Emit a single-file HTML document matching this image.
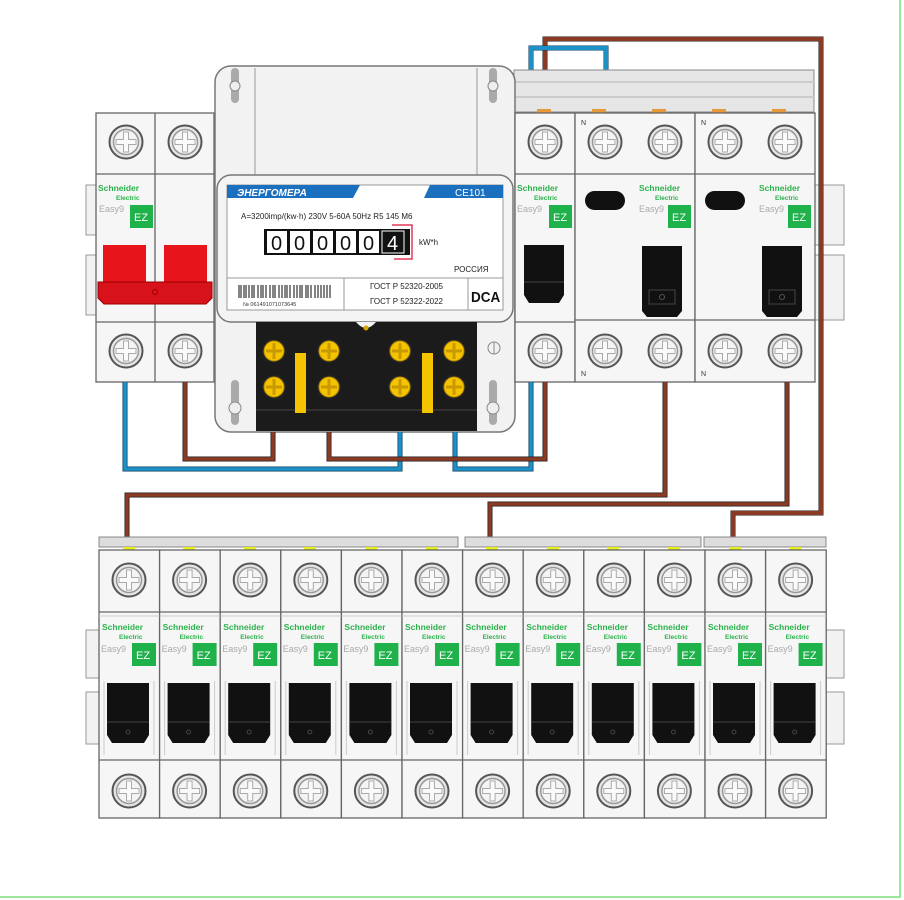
<!DOCTYPE html>
<html><head><meta charset="utf-8"><style>
html,body{margin:0;padding:0;background:#fff;}
svg{display:block;font-family:"Liberation Sans","DejaVu Sans",sans-serif;}
.sn{font-size:8.5px;font-weight:bold;fill:#2bb24c;}
.el{font-size:6.5px;font-weight:bold;fill:#2bb24c;}
.e9{font-size:9px;fill:#aaa;}
.ez{font-size:11px;fill:#fff;}
.nn{font-size:7px;fill:#333;}
</style></head><body>
<svg width="904" height="900" viewBox="0 0 904 900" xmlns="http://www.w3.org/2000/svg">
<defs>
  <g id="screw">
    <circle r="16.5" fill="#e6e6e6" stroke="#555" stroke-width="2"/>
    <circle r="12.5" fill="#f4f4f4" stroke="#999" stroke-width="1.5"/>
    <path d="M-2.5,-10 h5 v7.5 h7.5 v5 h-7.5 v7.5 h-5 v-7.5 h-7.5 v-5 h7.5z" fill="#fafafa" stroke="#aaa" stroke-width="1"/>
  </g>
  <g id="ysc">
    <circle r="12" fill="#222"/>
    <circle r="10" fill="#f5c400" stroke="#b48a00" stroke-width="1"/>
    <path d="M-1.5,-8 h3 v6.5 h6.5 v3 h-6.5 v6.5 h-3 v-6.5 h-6.5 v-3 h6.5z" fill="#c99a00"/>
  </g>
  <g id="mcb">
    <rect x="0" y="0" width="60.6" height="268" fill="#f6f6f6" stroke="#666" stroke-width="1.3"/>
    <line x1="0" y1="62" x2="60.6" y2="62" stroke="#666" stroke-width="1.3"/>
    <line x1="0" y1="66" x2="60.6" y2="66" stroke="#ccc" stroke-width="1"/>
    <line x1="0" y1="210" x2="60.6" y2="210" stroke="#666" stroke-width="1.3"/>
    <use href="#screw" x="30" y="30"/>
    <use href="#screw" x="30" y="241"/>
    <rect x="33" y="93" width="24" height="23" fill="#1fb14a"/>
    <line x1="5" y1="131" x2="5" y2="205" stroke="#ccc"/>
    <line x1="55" y1="131" x2="55" y2="205" stroke="#ccc"/>
    <path d="M8,133 h42 v52 l-5,8 h-32 l-5,-8z" fill="#111"/>
    <line x1="8" y1="172" x2="50" y2="172" stroke="#444"/>
    <circle cx="29" cy="182" r="2" fill="none" stroke="#444"/>
  </g>
</defs>

<!-- frame -->
<line x1="900" y1="0" x2="900" y2="898" stroke="#9be89b" stroke-width="2"/>
<line x1="0" y1="897" x2="900" y2="897" stroke="#9be89b" stroke-width="2"/>

<!-- DIN rails top -->
<rect x="86" y="185" width="14" height="50" fill="#f2f2f2" stroke="#999"/>
<rect x="86" y="255" width="14" height="60" fill="#f2f2f2" stroke="#999"/>
<rect x="812" y="185" width="32" height="60" fill="#f2f2f2" stroke="#999"/>
<rect x="812" y="255" width="32" height="65" fill="#f2f2f2" stroke="#999"/>
<!-- DIN rails bottom -->
<rect x="86" y="630" width="16" height="48" fill="#f2f2f2" stroke="#999"/>
<rect x="86" y="692" width="16" height="52" fill="#f2f2f2" stroke="#999"/>
<rect x="820" y="630" width="24" height="48" fill="#f2f2f2" stroke="#999"/>
<rect x="820" y="692" width="24" height="52" fill="#f2f2f2" stroke="#999"/>

<!-- top wires -->
<g fill="none" stroke-width="4" stroke-linejoin="miter">
  <path d="M545,382 V39 H821 V513 H733 V542" stroke="#222" stroke-width="5"/>
  <path d="M545,382 V39 H821 V513 H733 V542" stroke="#8b3a24"/>
  <path d="M531,382 V48 H606 V72" stroke="#0d3e5a" stroke-width="5"/>
  <path d="M531,382 V48 H606 V72" stroke="#1e90c8"/>
</g>

<!-- busbar top -->
<rect x="514" y="70" width="300" height="42" fill="#e6e6e6" stroke="#888"/>
<line x1="514" y1="82" x2="814" y2="82" stroke="#ccc" stroke-width="2"/>
<line x1="514" y1="97" x2="814" y2="97" stroke="#ccc" stroke-width="2"/>
<g fill="#e69a3a">
  <rect x="537" y="109" width="14" height="5"/><rect x="592" y="109" width="14" height="5"/>
  <rect x="652" y="109" width="14" height="5"/><rect x="712" y="109" width="14" height="5"/>
  <rect x="772" y="109" width="14" height="5"/>
</g>

<!-- left 2-pole breaker -->
<rect x="96" y="113" width="118" height="269" fill="#f6f6f6" stroke="#666" stroke-width="1.3"/>
<line x1="155" y1="113" x2="155" y2="382" stroke="#666" stroke-width="1.3"/>
<line x1="96" y1="174" x2="214" y2="174" stroke="#666" stroke-width="1.3"/>
<line x1="96" y1="322" x2="214" y2="322" stroke="#666" stroke-width="1.3"/>
<use href="#screw" x="126" y="142"/><use href="#screw" x="185" y="142"/>
<use href="#screw" x="126" y="351"/><use href="#screw" x="185" y="351"/>
<text x="98" y="191" class="sn">Schneider</text>
<text x="116" y="200" class="el">Electric</text>
<text x="99" y="212" class="e9">Easy9</text>
<rect x="130" y="205" width="23" height="23" fill="#1fb14a"/><text x="134" y="221" class="ez">EZ</text>
<rect x="103" y="245" width="43" height="38" fill="#e8141c"/>
<rect x="164" y="245" width="43" height="38" fill="#e8141c"/>
<path d="M98,282 H212 V298 L206,304 H104 L98,298Z" fill="#d8121a" stroke="#900" stroke-width="1"/>
<circle cx="155" cy="292" r="2.5" fill="none" stroke="#900"/>

<!-- meter -->
<rect x="215" y="66" width="300" height="366" rx="16" fill="#f2f2f2" stroke="#777" stroke-width="1.5"/>
<line x1="255" y1="68" x2="255" y2="176" stroke="#999"/>
<line x1="477" y1="68" x2="477" y2="176" stroke="#999"/>
<rect x="231" y="68" width="8" height="35" rx="4" fill="#aaa"/>
<rect x="489" y="68" width="8" height="35" rx="4" fill="#aaa"/>
<circle cx="235" cy="86" r="5" fill="#eee" stroke="#888"/>
<circle cx="493" cy="86" r="5" fill="#eee" stroke="#888"/>
<rect x="217" y="175" width="296" height="147" rx="14" fill="#f4f4f4" stroke="#777" stroke-width="1.5"/>
<rect x="227" y="185" width="276" height="125" fill="#fff" stroke="#999"/>
<path d="M227,185 H360 L353,198 H227Z" fill="#1a6fbf"/>
<path d="M430,185 H503 V198 H424Z" fill="#1a6fbf"/>
<text x="237" y="196" font-size="10" font-weight="bold" font-style="italic" fill="#fff">ЭНЕРГОМЕРА</text>
<text x="455" y="196" font-size="10" fill="#fff">CE101</text>
<text x="241" y="219" font-size="8" fill="#222">A=3200imp/(kw·h)  230V  5-60A 50Hz R5 145 M6</text>
<rect x="264" y="229" width="146" height="26" fill="#111"/>
<g fill="#fff"><rect x="267" y="231" width="20" height="22"/><rect x="290" y="231" width="20" height="22"/><rect x="313" y="231" width="20" height="22"/><rect x="336" y="231" width="20" height="22"/><rect x="359" y="231" width="20" height="22"/></g>
<rect x="382" y="231" width="22" height="22" fill="#111" stroke="#fff"/>
<g font-size="20" fill="#111"><text x="271" y="250">0</text><text x="294" y="250">0</text><text x="317" y="250">0</text><text x="340" y="250">0</text><text x="363" y="250">0</text></g>
<text x="387" y="250" font-size="20" fill="#fff">4</text>
<path d="M392,225 H412 V259 H394" fill="none" stroke="#e23a5a" stroke-width="1.5"/>
<text x="419" y="245" font-size="8" fill="#222">kW*h</text>
<text x="454" y="272" font-size="8" fill="#222">РОССИЯ</text>
<line x1="227" y1="278" x2="503" y2="278" stroke="#999"/>
<line x1="344" y1="278" x2="344" y2="310" stroke="#999"/>
<line x1="468" y1="278" x2="468" y2="310" stroke="#999"/>
<g stroke="#333" stroke-width="1.2">
<path d="M239,285v13M241,285v13M244,285v13M246,285v13M249,285v13M252,285v13M254,285v13M258,285v13M261,285v13M263,285v13M266,285v13M270,285v13M273,285v13M275,285v13M279,285v13M282,285v13M285,285v13M287,285v13M290,285v13M294,285v13M297,285v13M300,285v13M302,285v13M306,285v13M308,285v13M311,285v13M315,285v13M318,285v13M321,285v13M324,285v13M327,285v13M330,285v13"/>
</g>
<text x="243" y="306" font-size="5.5" fill="#333">№ 061491071073645</text>
<text x="370" y="289" font-size="8" fill="#222">ГОСТ Р 52320-2005</text>
<text x="370" y="304" font-size="8" fill="#222">ГОСТ Р 52322-2022</text>
<text x="471" y="302" font-size="15" font-weight="bold" fill="#111" transform="scale(0.9,1)" style="transform-origin:471px 302px">DCA</text>
<!-- terminal block -->
<rect x="256" y="322" width="221" height="109" fill="#1b1b1b"/>
<line x1="256" y1="410" x2="477" y2="410" stroke="#444"/>
<path d="M356,322 Q366,334 376,322Z" fill="#f2f2f2"/>
<circle cx="366" cy="328" r="2.5" fill="#d9a400"/>
<use href="#ysc" x="274" y="351"/><use href="#ysc" x="274" y="387"/>
<use href="#ysc" x="329" y="351"/><use href="#ysc" x="329" y="387"/>
<use href="#ysc" x="400" y="351"/><use href="#ysc" x="400" y="387"/>
<use href="#ysc" x="454" y="351"/><use href="#ysc" x="454" y="387"/>
<rect x="295" y="353" width="11" height="60" fill="#f5c400"/>
<rect x="422" y="353" width="11" height="60" fill="#f5c400"/>
<rect x="231" y="380" width="8" height="45" rx="4" fill="#aaa"/>
<rect x="489" y="380" width="8" height="45" rx="4" fill="#aaa"/>
<circle cx="235" cy="408" r="6" fill="#eee" stroke="#888"/>
<circle cx="493" cy="408" r="6" fill="#eee" stroke="#888"/>
<circle cx="494" cy="348" r="6" fill="none" stroke="#888"/><line x1="494" y1="342" x2="494" y2="354" stroke="#888"/>

<!-- right single breaker -->
<rect x="515" y="113" width="60" height="269" fill="#f6f6f6" stroke="#666" stroke-width="1.3"/>
<line x1="515" y1="174" x2="575" y2="174" stroke="#666" stroke-width="1.3"/>
<line x1="515" y1="322" x2="575" y2="322" stroke="#666" stroke-width="1.3"/>
<use href="#screw" x="545" y="142"/><use href="#screw" x="545" y="351"/>
<text x="517" y="191" class="sn">Schneider</text><text x="534" y="200" class="el">Electric</text>
<text x="517" y="212" class="e9">Easy9</text>
<rect x="549" y="205" width="23" height="23" fill="#1fb14a"/><text x="553" y="221" class="ez">EZ</text>
<path d="M524,245 h40 v50 l-5,8 h-30 l-5,-8z" fill="#111"/>
<line x1="524" y1="282" x2="564" y2="282" stroke="#444"/>

<!-- RCDs -->
<g transform="translate(575,0)">
<rect x="0" y="113" width="120" height="269" fill="#f6f6f6" stroke="#666" stroke-width="1.3"/>
<line x1="0" y1="174" x2="120" y2="174" stroke="#666" stroke-width="1.3"/>
<line x1="0" y1="320" x2="120" y2="320" stroke="#666" stroke-width="1.3"/>
<use href="#screw" x="30" y="142"/><use href="#screw" x="90" y="142"/>
<use href="#screw" x="30" y="351"/><use href="#screw" x="90" y="351"/>
<text x="6" y="125" class="nn">N</text><text x="6" y="376" class="nn">N</text>
<rect x="10" y="191" width="40" height="19" rx="9.5" fill="#111"/>
<text x="64" y="191" class="sn">Schneider</text><text x="80" y="200" class="el">Electric</text>
<text x="64" y="212" class="e9">Easy9</text>
<rect x="93" y="205" width="23" height="23" fill="#1fb14a"/><text x="97" y="221" class="ez">EZ</text>
<path d="M67,246 h40 v65 l-5,6 h-30 l-5,-6z" fill="#111"/>
<rect x="74" y="290" width="26" height="14" fill="none" stroke="#444"/>
<circle cx="87" cy="297" r="2.5" fill="none" stroke="#555"/>
</g>
<g transform="translate(695,0)">
<rect x="0" y="113" width="120" height="269" fill="#f6f6f6" stroke="#666" stroke-width="1.3"/>
<line x1="0" y1="174" x2="120" y2="174" stroke="#666" stroke-width="1.3"/>
<line x1="0" y1="320" x2="120" y2="320" stroke="#666" stroke-width="1.3"/>
<use href="#screw" x="30" y="142"/><use href="#screw" x="90" y="142"/>
<use href="#screw" x="30" y="351"/><use href="#screw" x="90" y="351"/>
<text x="6" y="125" class="nn">N</text><text x="6" y="376" class="nn">N</text>
<rect x="10" y="191" width="40" height="19" rx="9.5" fill="#111"/>
<text x="64" y="191" class="sn">Schneider</text><text x="80" y="200" class="el">Electric</text>
<text x="64" y="212" class="e9">Easy9</text>
<rect x="93" y="205" width="23" height="23" fill="#1fb14a"/><text x="97" y="221" class="ez">EZ</text>
<path d="M67,246 h40 v65 l-5,6 h-30 l-5,-6z" fill="#111"/>
<rect x="74" y="290" width="26" height="14" fill="none" stroke="#444"/>
<circle cx="87" cy="297" r="2.5" fill="none" stroke="#555"/>
</g>

<!-- lower wires -->
<g fill="none" stroke-linejoin="miter">
  <g stroke="#0d3e5a" stroke-width="5">
    <path d="M125,382 V469 H400 V432"/><path d="M455,432 V469 H531 V382"/>
  </g>
  <g stroke="#1e90c8" stroke-width="3.5">
    <path d="M125,382 V469 H400 V432"/><path d="M455,432 V469 H531 V382"/>
  </g>
  <g stroke="#222" stroke-width="5">
    <path d="M185,382 V459 H273 V432"/><path d="M329,432 V459 H545 V382"/>
    <path d="M665,382 V495 H127 V542"/><path d="M787,382 V504 H490 V542"/>
  </g>
  <g stroke="#8b3a24" stroke-width="3.5">
    <path d="M185,382 V459 H273 V432"/><path d="M329,432 V459 H545 V382"/>
    <path d="M665,382 V495 H127 V542"/><path d="M787,382 V504 H490 V542"/>
  </g>
</g>

<!-- bottom busbars -->
<rect x="99" y="537" width="359" height="10" fill="#ddd" stroke="#888"/>
<rect x="465" y="537" width="236" height="10" fill="#ddd" stroke="#888"/>
<rect x="704" y="537" width="122" height="10" fill="#ddd" stroke="#888"/>
<g fill="#e6ee1a">
<rect x="123" y="547" width="12" height="4"/><rect x="183" y="547" width="12" height="4"/><rect x="244" y="547" width="12" height="4"/><rect x="304" y="547" width="12" height="4"/><rect x="365" y="547" width="12" height="4"/><rect x="426" y="547" width="12" height="4"/><rect x="486" y="547" width="12" height="4"/><rect x="547" y="547" width="12" height="4"/><rect x="607" y="547" width="12" height="4"/><rect x="668" y="547" width="12" height="4"/><rect x="729" y="547" width="12" height="4"/><rect x="789" y="547" width="12" height="4"/>
</g>

<!-- bottom MCBs -->
<g transform="translate(99,550)"><use href="#mcb"/><text x="3" y="80" class="sn">Schneider</text><text x="20" y="89" class="el">Electric</text><text x="2" y="102" class="e9">Easy9</text><text x="37" y="109" class="ez">EZ</text></g>
<g transform="translate(159.6,550)"><use href="#mcb"/><text x="3" y="80" class="sn">Schneider</text><text x="20" y="89" class="el">Electric</text><text x="2" y="102" class="e9">Easy9</text><text x="37" y="109" class="ez">EZ</text></g>
<g transform="translate(220.2,550)"><use href="#mcb"/><text x="3" y="80" class="sn">Schneider</text><text x="20" y="89" class="el">Electric</text><text x="2" y="102" class="e9">Easy9</text><text x="37" y="109" class="ez">EZ</text></g>
<g transform="translate(280.8,550)"><use href="#mcb"/><text x="3" y="80" class="sn">Schneider</text><text x="20" y="89" class="el">Electric</text><text x="2" y="102" class="e9">Easy9</text><text x="37" y="109" class="ez">EZ</text></g>
<g transform="translate(341.4,550)"><use href="#mcb"/><text x="3" y="80" class="sn">Schneider</text><text x="20" y="89" class="el">Electric</text><text x="2" y="102" class="e9">Easy9</text><text x="37" y="109" class="ez">EZ</text></g>
<g transform="translate(402,550)"><use href="#mcb"/><text x="3" y="80" class="sn">Schneider</text><text x="20" y="89" class="el">Electric</text><text x="2" y="102" class="e9">Easy9</text><text x="37" y="109" class="ez">EZ</text></g>
<g transform="translate(462.6,550)"><use href="#mcb"/><text x="3" y="80" class="sn">Schneider</text><text x="20" y="89" class="el">Electric</text><text x="2" y="102" class="e9">Easy9</text><text x="37" y="109" class="ez">EZ</text></g>
<g transform="translate(523.2,550)"><use href="#mcb"/><text x="3" y="80" class="sn">Schneider</text><text x="20" y="89" class="el">Electric</text><text x="2" y="102" class="e9">Easy9</text><text x="37" y="109" class="ez">EZ</text></g>
<g transform="translate(583.8,550)"><use href="#mcb"/><text x="3" y="80" class="sn">Schneider</text><text x="20" y="89" class="el">Electric</text><text x="2" y="102" class="e9">Easy9</text><text x="37" y="109" class="ez">EZ</text></g>
<g transform="translate(644.4,550)"><use href="#mcb"/><text x="3" y="80" class="sn">Schneider</text><text x="20" y="89" class="el">Electric</text><text x="2" y="102" class="e9">Easy9</text><text x="37" y="109" class="ez">EZ</text></g>
<g transform="translate(705,550)"><use href="#mcb"/><text x="3" y="80" class="sn">Schneider</text><text x="20" y="89" class="el">Electric</text><text x="2" y="102" class="e9">Easy9</text><text x="37" y="109" class="ez">EZ</text></g>
<g transform="translate(765.6,550)"><use href="#mcb"/><text x="3" y="80" class="sn">Schneider</text><text x="20" y="89" class="el">Electric</text><text x="2" y="102" class="e9">Easy9</text><text x="37" y="109" class="ez">EZ</text></g>
</svg>
</body></html>
